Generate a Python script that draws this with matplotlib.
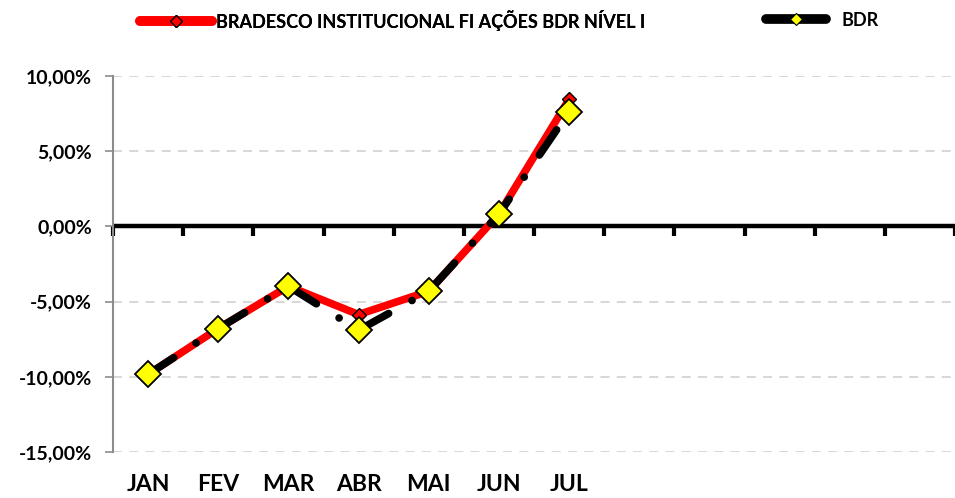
import matplotlib
matplotlib.use('Agg')
import matplotlib.pyplot as plt
from matplotlib.lines import Line2D
from matplotlib.ticker import FuncFormatter

# monthly returns (%), only Jan-Jul reported
months = ['JAN', 'FEV', 'MAR', 'ABR', 'MAI', 'JUN', 'JUL', '', '', '', '', '']
fund_name = 'BRADESCO INSTITUCIONAL FI AÇÕES BDR NÍVEL I'
fund = [-9.84, -6.79, -3.98, -5.86, -4.31, 0.82, 8.45]
bench_name = 'BDR'
bench = [-9.84, -6.79, -3.98, -6.90, -4.31, 0.82, 7.63]
yticks = [10, 5, 0, -5, -10, -15]

plt.rcParams['font.family'] = ['Lato', 'DejaVu Sans']
plt.rcParams['font.weight'] = 'bold'

fig = plt.figure(figsize=(9.55, 4.98), dpi=100)
ax = fig.add_axes([113 / 955, 1 - 452 / 498, 1 - 113 / 955, (452 - 76) / 498])

x = list(range(len(fund)))
ax.plot(x, fund, color='#ff0000', lw=5.5, solid_capstyle='round', zorder=3,
        marker='D', ms=7, mfc='#ff0000', mec='black', mew=1)
xb = list(range(len(bench)))
ax.plot(xb, bench, color='black', lw=5.5, dashes=(4, 3.5, 0.01, 3.5),
        dash_capstyle='round', zorder=4)
ax.plot(xb, bench, ls='none', marker='D', ms=13, mfc='#ffff00', mec='black',
        mew=1.3, zorder=5)

ax.set_xlim(-0.5, len(months) - 0.5)
ax.set_ylim(-15, 10)
ax.set_yticks(yticks)
ax.yaxis.set_major_formatter(FuncFormatter(lambda v, p: f'{v:.2f}%'.replace('.', ',')))
ax.grid(axis='y', color='#d4d4d4', ls=(0, (5, 4)), lw=1.3)
ax.set_axisbelow(True)

ax.set_xticks(range(len(months)))
ax.set_xticklabels(months)
ax.tick_params(axis='x', length=0, pad=16, labelsize=16.5)
ax.tick_params(axis='y', length=6, color='#8c8c8c', width=1.2, pad=9, labelsize=14)

for s in ['top', 'right', 'bottom']:
    ax.spines[s].set_visible(False)
ax.spines['left'].set_color('#8c8c8c')
ax.spines['left'].set_linewidth(1.5)

# zero line with category separators
ax.axhline(0, color='black', lw=3.2, zorder=2)
zero = ax.secondary_xaxis(15 / 25)
for sp in zero.spines.values():
    sp.set_visible(False)
zero.xaxis.set_ticks_position('bottom')
zero.set_xticks([i - 0.5 for i in range(len(months) + 1)])
zero.set_xticklabels([])
zero.tick_params(length=7, width=3, color='black', direction='out')

h1 = Line2D([], [], color='#ff0000', lw=7, solid_capstyle='round',
            marker='D', ms=6, mfc='#ff0000', mec='black', mew=1)
h2 = Line2D([], [], color='black', lw=7, solid_capstyle='round',
            marker='D', ms=6, mfc='#ffff00', mec='black', mew=0.8)
leg1 = fig.legend([h1], [fund_name], loc='center left', bbox_to_anchor=(140 / 955, 1 - 20 / 498),
                  frameon=False, borderpad=0, borderaxespad=0, handlelength=4.0,
                  handletextpad=0.2, prop={'size': 13, 'weight': 'bold'})
fig.add_artist(leg1)
fig.legend([h2], [bench_name], loc='center left', bbox_to_anchor=(766 / 955, 1 - 20 / 498),
           frameon=False, borderpad=0, borderaxespad=0, handlelength=3.3,
           handletextpad=0.9, prop={'size': 13, 'weight': 'bold'})

fig.savefig('out.png', dpi=100)
